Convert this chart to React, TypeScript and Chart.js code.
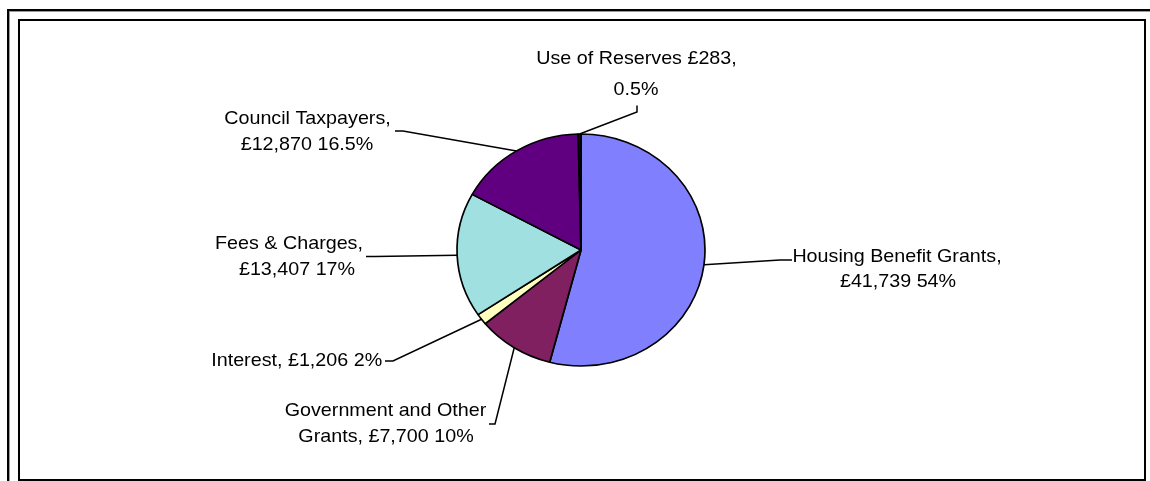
import React, { useEffect, useRef } from "react";
import { Chart, registerables } from "chart.js";

Chart.register(...registerables);

const categories = [
  "Housing Benefit Grants",
  "Government and Other Grants",
  "Interest",
  "Fees & Charges",
  "Council Taxpayers",
  "Use of Reserves",
];
const values = [41739, 7700, 1206, 13407, 12870, 283];
const labelLines = [
  ["Housing Benefit Grants,", "£41,739 54%"],
  ["Government and Other", "Grants, £7,700 10%"],
  ["Interest, £1,206 2%"],
  ["Fees & Charges,", "£13,407 17%"],
  ["Council Taxpayers,", "£12,870 16.5%"],
  ["Use of Reserves £283,", "0.5%"],
];
const colors = ["#8080FF", "#802060", "#FFFFC0", "#A0E0E0", "#600080", "#101010"];

// label placement: text centre x per line, baselines, leader elbow & end
const labelLayout = [
  { xs: [897, 898], ys: [262, 287], path: [[780, 260], [792, 260]] },
  { xs: [385.5, 386], ys: [416, 441.7], path: [[495, 424], [489, 424]] },
  { xs: [296.7], ys: [365.7], path: [[393, 361], [385, 361]] },
  { xs: [289, 297], ys: [249, 274.5], path: [[375, 256.5], [366, 256.5]] },
  { xs: [307.5, 307], ys: [124.3, 150.3], path: [[403, 131], [395, 131]] },
  { xs: [636.5, 636], ys: [63.5, 95], path: [[637, 112], [637, 105.5]] },
];

const W = 1150;
const H = 481;
const RX = 124;
const RY = 116;
const SY = RY / RX;
const CX = 581;
const CY = 250;
const FONT = '18.6px "Liberation Sans", Arial, sans-serif';
const TEXT_SX = 1.06;

const ellipsePlugin = {
  id: "ellipse",
  beforeDatasetsDraw(chart: any) {
    const ctx = chart.ctx;
    const arc = chart.getDatasetMeta(0).data[0];
    ctx.save();
    ctx.translate(arc.x, arc.y);
    ctx.scale(1, SY);
    ctx.translate(-arc.x, -arc.y);
  },
  afterDatasetsDraw(chart: any) {
    chart.ctx.restore();
  },
};

const labelPlugin = {
  id: "pieLabels",
  afterDraw(chart: any) {
    const ctx = chart.ctx;
    const arcs = chart.getDatasetMeta(0).data;
    ctx.save();
    arcs.forEach((arc: any, i: number) => {
      const mid = (arc.startAngle + arc.endAngle) / 2;
      const px = arc.x + arc.outerRadius * Math.cos(mid);
      const py = arc.y + arc.outerRadius * SY * Math.sin(mid);
      const lay = labelLayout[i];
      ctx.beginPath();
      ctx.moveTo(px, py);
      lay.path.forEach((p) => ctx.lineTo(p[0], p[1]));
      ctx.strokeStyle = "#000";
      ctx.lineWidth = 1.5;
      ctx.stroke();
      ctx.font = FONT;
      ctx.fillStyle = "#000";
      ctx.textAlign = "center";
      ctx.textBaseline = "alphabetic";
      labelLines[i].forEach((line, j) => {
        ctx.save();
        ctx.translate(lay.xs[j], lay.ys[j]);
        ctx.scale(TEXT_SX, 1);
        ctx.fillText(line, 0, 0);
        ctx.restore();
      });
    });
    ctx.restore();
  },
};

export default function App() {
  const ref = useRef<HTMLCanvasElement>(null);
  useEffect(() => {
    if (!ref.current) return;
    const chart = new Chart(ref.current, {
      type: "pie",
      data: {
        labels: categories,
        datasets: [
          {
            data: values,
            backgroundColor: colors,
            borderColor: "#000",
            borderWidth: 1.7,
            radius: RX,
          } as any,
        ],
      },
      options: {
        responsive: false,
        animation: false,
        events: [],
        layout: {
          padding: {
            left: CX - RX,
            right: W - (CX + RX),
            top: CY - RX,
            bottom: H - (CY + RX),
          },
        },
        plugins: {
          legend: { display: false },
          tooltip: { enabled: false },
        },
      } as any,
      plugins: [ellipsePlugin, labelPlugin],
    });
    return () => chart.destroy();
  }, []);

  return (
    <div
      style={{
        position: "absolute",
        left: 0,
        top: 0,
        width: W,
        height: H,
        background: "#fff",
        overflow: "hidden",
      }}
    >
      <div
        style={{
          position: "absolute",
          left: 7,
          top: 9,
          width: 1300,
          height: 700,
          borderLeft: "2px solid #000",
          borderTop: "2px solid #000",
          boxShadow: "inset 1px 1px 0 #999",
        }}
      />
      <div
        style={{
          position: "absolute",
          left: 18,
          top: 19,
          width: 1128,
          height: 462,
          boxSizing: "border-box",
          border: "2px solid #000",
          background: "#fff",
        }}
      />
      <canvas
        ref={ref}
        width={W}
        height={H}
        style={{ position: "absolute", left: 0, top: 0, width: W, height: H }}
      />
    </div>
  );
}
